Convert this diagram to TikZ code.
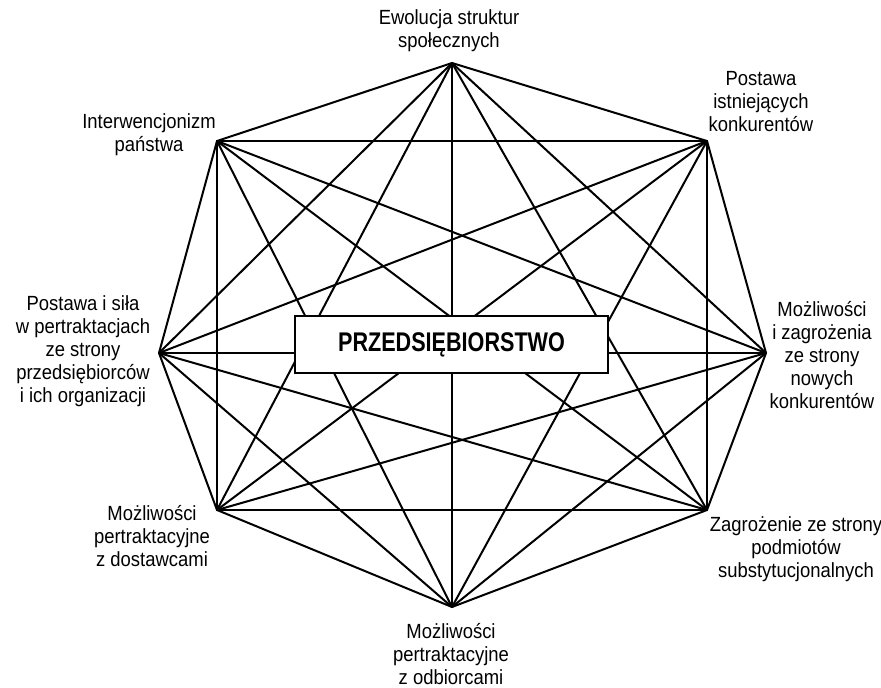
\documentclass[tikz,border=0pt]{standalone}
\usepackage{fontspec}
\setmainfont[FakeStretch=0.9]{Liberation Sans}
\newfontfamily\boxfont[FakeStretch=0.8]{Liberation Sans}
\begin{document}
\begin{tikzpicture}[x=1pt,y=-1pt,
  link/.style={line width=2pt,line cap=round,line join=round},
  factor/.style={align=center,inner sep=0pt,
    font=\fontsize{20.5}{23}\selectfont},
  core/.style={draw,line width=2pt,fill=white,minimum width=313pt,
    minimum height=57pt,inner sep=0pt,
    font=\boxfont\bfseries\fontsize{27}{30}\selectfont}]
\useasboundingbox (0,0) rectangle (881,688);

% corners of the octagon
\coordinate (v1) at (452,63);
\coordinate (v2) at (707,141);
\coordinate (v3) at (766,353);
\coordinate (v4) at (707,510);
\coordinate (v5) at (452,607);
\coordinate (v6) at (217,510);
\coordinate (v7) at (159,353);
\coordinate (v8) at (217,141);

% every corner joined to every other
\foreach \i in {1,...,8}{
  \foreach \j in {1,...,8}{
    \ifnum\i<\j
      \draw[link] (v\i) -- (v\j);
    \fi
  }
}

% central box
\node[core] (firm) at (451.5,344.5) {PRZEDSIĘBIORSTWO};

% factor labels
\node[factor] (l1) at (449,31) {Ewolucja struktur\\społecznych};
\node[factor] (l2) at (761,102) {Postawa\\istniejących\\konkurentów};
\node[factor] (l3) at (822,355) {Możliwości\\i zagrożenia\\ze strony\\nowych\\konkurentów};
\node[factor] (l4) at (796,549) {Zagrożenie ze strony\\podmiotów\\substytucjonalnych};
\node[factor] (l5) at (451,654) {Możliwości\\pertraktacyjne\\z odbiorcami};
\node[factor] (l6) at (152,536) {Możliwości\\pertraktacyjne\\z dostawcami};
\node[factor] (l7) at (83,351) {Postawa i siła\\w pertraktacjach\\ze strony\\przedsiębiorców\\i ich organizacji};
\node[factor] (l8) at (149,135) {Interwencjonizm\\państwa};
\end{tikzpicture}
\end{document}
